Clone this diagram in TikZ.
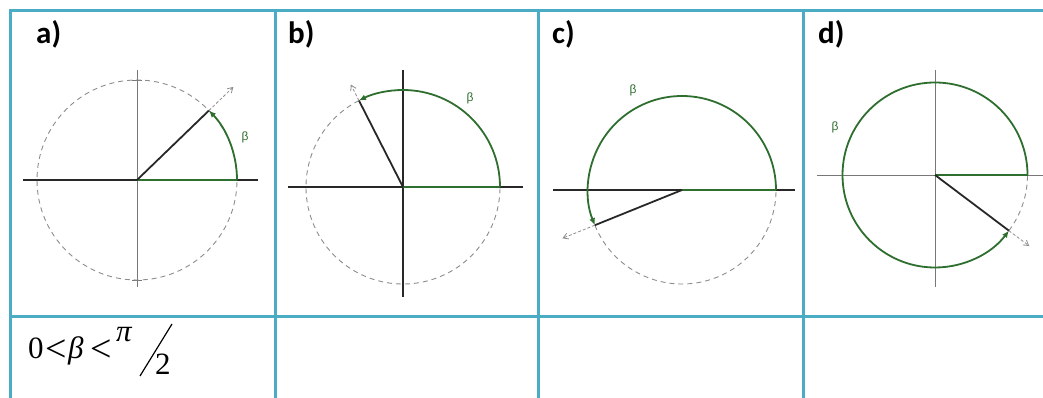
\documentclass[tikz,border=0pt]{standalone}
\usepackage{fontspec}
\setmainfont{Liberation Serif}
\newfontfamily\labfont{Carlito}
\newfontfamily\smallsans{Liberation Sans}
\usetikzlibrary{arrows.meta,calc}
\definecolor{tablecol}{RGB}{75,172,198}
\definecolor{arcgreen}{RGB}{46,110,46}
\definecolor{raycol}{RGB}{40,40,40}
\definecolor{dashcol}{RGB}{140,140,140}
\definecolor{axgray}{RGB}{120,120,120}
\tikzset{
 gridline/.style={tablecol, line width=3pt},
 panellab/.style={anchor=base west, inner sep=0pt, font=\labfont\bfseries\fontsize{31}{31}\selectfont},
 axisdark/.style={raycol, line width=1.2pt},
 axislight/.style={axgray, line width=0.8pt},
 dashcircle/.style={dashcol, dashed, dash pattern=on 5pt off 4pt, line width=0.9pt},
 garc/.style={arcgreen, line width=1.8pt},
 garcarrow/.style={arcgreen, line width=1.8pt, -{Latex[length=7pt,width=6pt]}},
 ray/.style={raycol, line width=1.8pt},
 ext/.style={dashcol, dashed, dash pattern=on 3pt off 2pt, line width=0.8pt, -{Straight Barb[length=5pt,width=6pt]}},
 betalab/.style={arcgreen, font=\smallsans\fontsize{12}{12}\selectfont, inner sep=0pt},
 formula/.style={anchor=base west, inner sep=0pt, font=\fontsize{31}{31}\selectfont},
 relsign/.style={anchor=center, inner sep=0pt, font=\fontsize{38}{38}\selectfont},
}
\begin{document}
\begin{tikzpicture}[x=1pt,y=1pt]
\useasboundingbox (0,0) rectangle (1043,398);
% ---------- table ----------
\draw[gridline, line join=miter] (1043,387) -- (10,387) -- (10,0);
\draw[gridline] (10,81) -- (1043,81);
\draw[gridline] (275,387) -- (275,0);
\draw[gridline] (538,387) -- (538,0);
\draw[gridline] (803,387) -- (803,0);
% ---------- labels ----------
\node[panellab] (la) at (36,354) {a)};
\node[panellab] (lb) at (288,354) {b)};
\node[panellab] (lc) at (552,354) {c)};
\node[panellab] (ld) at (818,354) {d)};
% ---------- panel a ----------
\coordinate (Oa) at (137,218);
\coordinate (Ra) at ($(Oa)+(100,0)$);
\coordinate (Pa) at ($(Oa)+(44:100)$);
\coordinate (Ea) at ($(Oa)+(44:134)$);
\draw[axisdark] (23,218) -- (258,218);
\draw[axislight] (137,328) -- (137,111);
\draw[axislight] (132,318) -- (142,318);
\draw[axislight] (132,118) -- (142,118);
\draw[dashcircle] (Oa) circle[radius=100];
\draw[garc] (Oa) -- (Ra);
\draw[garcarrow] (Ra) arc[start angle=0, end angle=44, radius=100];
\draw[ray] (Oa) -- (Pa);
\draw[ext] (Pa) -- (Ea);
\node[betalab] (ba) at (245,261) {β};
% ---------- panel b ----------
\coordinate (Ob) at (403,211);
\coordinate (Rb) at ($(Ob)+(97,0)$);
\coordinate (Pb) at ($(Ob)+(117:97)$);
\coordinate (Eb) at ($(Ob)+(117:115)$);
\draw[axisdark] (288,211) -- (523,211);
\draw[axisdark] (403,328) -- (403,101);
\draw[dashcircle] (Pb) arc[start angle=117, end angle=360, radius=97];
\draw[garc] (Ob) -- (Rb);
\draw[garcarrow] (Rb) arc[start angle=0, end angle=117, radius=97];
\draw[ray] (Ob) -- (Pb);
\draw[ext] (Pb) -- (Eb);
\node[betalab] (bb) at (470,300) {β};
% ---------- panel c ----------
\coordinate (Oc) at (682,208);
\coordinate (Rc) at ($(Oc)+(94,0)$);
\coordinate (Pc) at ($(Oc)+(202:94)$);
\coordinate (Ec) at ($(Oc)+(202:129)$);
\draw[axisdark] (553,208) -- (795,208);
\draw[dashcircle] (Pc) arc[start angle=202, end angle=360, radius=94];
\draw[garc] (Oc) -- (Rc);
\draw[garcarrow] (Rc) arc[start angle=0, end angle=202, radius=94];
\draw[ray] (Oc) -- (Pc);
\draw[ext] (Pc) -- (Ec);
\node[betalab] (bc) at (633,308) {β};
% ---------- panel d ----------
\coordinate (Od) at (935,223);
\coordinate (Rd) at ($(Od)+(92.5,0)$);
\coordinate (Pd) at ($(Od)+(323:92.5)$);
\coordinate (Ed) at ($(Od)+(323:118)$);
\draw[axislight] (817,223) -- (1043,223);
\draw[axislight] (935,328) -- (935,111);
\draw[dashcircle] (Pd) arc[start angle=323, end angle=360, radius=92.5];
\draw[garc] (Od) -- (Rd);
\draw[garcarrow] (Rd) arc[start angle=0, end angle=323, radius=92.5];
\draw[ray] (Od) -- (Pd);
\draw[ext] (Pd) -- (Ed);
\node[betalab] (bd) at (835,271) {β};
% ---------- formula ----------
\node[formula] (zero) at (28,39) {0};
\node[relsign] (lt1) at (56,47) {<};
\node[formula] (beta) at (68,39) {\textit{β}};
\node[relsign] (lt2) at (101,47) {<};
\node[formula] (pinum) at (116,56) {\textit{π}};
\node[formula] (twoden) at (155,23) {2};
\coordinate (sl1) at (140,22);
\coordinate (sl2) at (172,74);
\draw[line width=1.2pt] (sl1) -- (sl2);
\end{tikzpicture}
\end{document}
